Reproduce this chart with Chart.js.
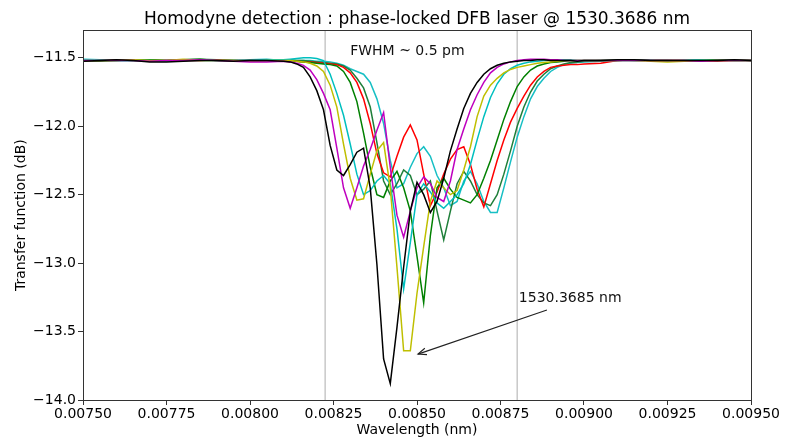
<!DOCTYPE html>
<html><head><meta charset="utf-8">
<script src="https://cdn.jsdelivr.net/npm/chart.js@4"></script>
<style>html,body{margin:0;padding:0;background:#fff}</style>
</head><body>
<canvas id="c" width="788" height="437"></canvas>
<script>
const titleText = 'Homodyne detection : phase-locked DFB laser @ 1530.3686 nm';
const xLabel = 'Wavelength (nm)';
const yLabel = 'Transfer function (dB)';
const xTicks = [0.0075, 0.00775, 0.0080, 0.00825, 0.0085, 0.00875, 0.0090, 0.00925, 0.0095];
const yTicks = [-14.0, -13.5, -13.0, -12.5, -12.0, -11.5];
const markerLines = [0.008225, 0.0088];
const fwhmText = 'FWHM ~ 0.5 pm';
const fwhmPos = [0.0083, -11.456];
const peakText = '1530.3685 nm';
const peakTextPos = [0.008805, -13.254];
const arrowFrom = [0.008889, -13.342];
const arrowTo = [0.008503, -13.665];

const wavelength = [
 0.00750,0.00755,0.00760,0.00765,0.00770,0.00775,0.00780,0.00785,0.00790,0.00795,0.00800,0.00805,
 0.00810,0.00812,0.00814,0.00816,0.00818,0.00820,0.00822,0.00824,0.00826,0.00828,
 0.00830,0.00832,0.00834,0.00836,0.00838,0.00840,0.00842,0.00844,0.00846,0.00848,
 0.00850,0.00852,0.00854,0.00856,0.00858,0.00860,0.00862,0.00864,0.00866,0.00868,
 0.00870,0.00872,0.00874,0.00876,0.00878,0.00880,0.00882,0.00884,0.00886,0.00888,
 0.00890,0.00892,0.00894,0.00896,0.00898,0.00900,
 0.00905,0.00910,0.00915,0.00920,0.00925,0.00930,0.00935,0.00940,0.00945,0.00950];

const blackTrace = [
 -11.525,-11.52,-11.515,-11.52,-11.53,-11.53,-11.525,-11.52,-11.52,-11.525,-11.52,-11.52,
 -11.525,-11.53,-11.545,-11.57,-11.64,-11.74,-11.88,-12.14,-12.32,-12.36,
 -12.28,-12.19,-12.16,-12.45,-13.01,-13.70,-13.88,-13.47,-13.03,-12.62,
 -12.41,-12.50,-12.63,-12.55,-12.38,-12.18,-12.02,-11.87,-11.76,-11.68,
 -11.62,-11.58,-11.555,-11.54,-11.53,-11.525,-11.52,-11.52,-11.515,-11.515,
 -11.52,-11.52,-11.52,-11.52,-11.525,-11.52,
 -11.52,-11.515,-11.515,-11.52,-11.52,-11.52,-11.52,-11.52,-11.515,-11.52];
const magentaTrace = [
 -11.52,-11.52,-11.52,-11.52,-11.525,-11.52,-11.52,-11.515,-11.52,-11.525,-11.53,-11.53,
 -11.525,-11.53,-11.54,-11.555,-11.59,-11.66,-11.76,-11.88,-12.16,-12.45,
 -12.60,-12.45,-12.29,-12.17,-12.03,-11.90,-12.30,-12.65,-12.81,-12.62,
 -12.45,-12.37,-12.42,-12.52,-12.55,-12.40,-12.17,-12.02,-11.88,-11.77,
 -11.68,-11.61,-11.57,-11.545,-11.53,-11.52,-11.515,-11.51,-11.51,-11.51,
 -11.515,-11.515,-11.52,-11.52,-11.52,-11.52,
 -11.52,-11.52,-11.52,-11.52,-11.52,-11.52,-11.525,-11.52,-11.52,-11.52];
const yellowTrace = [
 -11.52,-11.52,-11.52,-11.515,-11.52,-11.52,-11.51,-11.52,-11.52,-11.52,-11.525,-11.52,
 -11.52,-11.52,-11.525,-11.53,-11.54,-11.56,-11.60,-11.70,-11.86,-12.13,
 -12.38,-12.54,-12.53,-12.35,-12.18,-12.12,-12.45,-13.03,-13.64,-13.64,
 -13.22,-12.88,-12.55,-12.40,-12.45,-12.50,-12.47,-12.32,-12.15,-11.93,
 -11.78,-11.70,-11.65,-11.61,-11.585,-11.57,-11.56,-11.55,-11.54,-11.535,
 -11.53,-11.525,-11.52,-11.52,-11.52,-11.52,
 -11.52,-11.52,-11.52,-11.525,-11.53,-11.525,-11.52,-11.52,-11.52,-11.52];
const cyanTraceA = [
 -11.51,-11.515,-11.52,-11.52,-11.52,-11.525,-11.52,-11.515,-11.52,-11.52,-11.52,-11.515,
 -11.515,-11.51,-11.505,-11.50,-11.50,-11.505,-11.52,-11.62,-11.76,-11.92,
 -12.13,-12.35,-12.50,-12.47,-12.40,-12.36,-12.42,-12.75,-13.19,-12.85,
 -12.50,-12.42,-12.48,-12.56,-12.60,-12.55,-12.50,-12.42,-12.28,-12.10,
 -11.93,-11.79,-11.69,-11.62,-11.58,-11.555,-11.54,-11.53,-11.525,-11.52,
 -11.52,-11.52,-11.515,-11.515,-11.52,-11.52,
 -11.52,-11.52,-11.52,-11.52,-11.525,-11.52,-11.515,-11.52,-11.52,-11.52];
const greenTraceA = [
 -11.52,-11.525,-11.52,-11.52,-11.515,-11.52,-11.515,-11.51,-11.52,-11.52,-11.525,-11.52,
 -11.52,-11.52,-11.525,-11.53,-11.535,-11.54,-11.545,-11.55,-11.56,-11.60,
 -11.68,-11.82,-12.05,-12.30,-12.50,-12.52,-12.40,-12.33,-12.45,-12.62,
 -12.95,-13.29,-12.80,-12.45,-12.38,-12.46,-12.52,-12.54,-12.56,-12.50,
 -12.38,-12.25,-12.10,-11.95,-11.82,-11.71,-11.64,-11.59,-11.56,-11.545,
 -11.535,-11.53,-11.525,-11.52,-11.52,-11.52,
 -11.52,-11.52,-11.515,-11.52,-11.52,-11.52,-11.52,-11.515,-11.52,-11.52];
const redTrace = [
 -11.52,-11.52,-11.515,-11.52,-11.52,-11.52,-11.52,-11.52,-11.515,-11.52,-11.52,-11.52,
 -11.52,-11.52,-11.525,-11.53,-11.53,-11.535,-11.54,-11.545,-11.55,-11.57,
 -11.61,-11.68,-11.80,-11.98,-12.20,-12.34,-12.37,-12.22,-12.08,-11.99,
 -12.10,-12.35,-12.58,-12.48,-12.35,-12.24,-12.17,-12.15,-12.28,-12.46,
 -12.59,-12.42,-12.25,-12.10,-11.97,-11.87,-11.78,-11.70,-11.64,-11.60,
 -11.57,-11.56,-11.555,-11.55,-11.55,-11.545,
 -11.54,-11.52,-11.515,-11.52,-11.52,-11.52,-11.52,-11.525,-11.52,-11.52];
const greenTraceB = [
 -11.525,-11.52,-11.52,-11.515,-11.52,-11.52,-11.515,-11.51,-11.515,-11.52,-11.52,-11.52,
 -11.52,-11.515,-11.52,-11.52,-11.525,-11.53,-11.535,-11.54,-11.545,-11.56,
 -11.59,-11.65,-11.72,-11.86,-12.12,-12.40,-12.50,-12.42,-12.32,-12.36,
 -12.50,-12.46,-12.40,-12.62,-12.83,-12.62,-12.42,-12.33,-12.40,-12.50,
 -12.56,-12.58,-12.50,-12.35,-12.18,-12.00,-11.86,-11.75,-11.67,-11.62,
 -11.58,-11.56,-11.545,-11.535,-11.53,-11.525,
 -11.52,-11.515,-11.52,-11.52,-11.52,-11.52,-11.52,-11.515,-11.515,-11.52];
const cyanTraceB = [
 -11.515,-11.52,-11.52,-11.52,-11.52,-11.52,-11.52,-11.52,-11.52,-11.52,-11.515,-11.51,
 -11.52,-11.52,-11.52,-11.52,-11.52,-11.525,-11.525,-11.53,-11.54,-11.555,
 -11.58,-11.60,-11.62,-11.68,-11.80,-11.98,-12.25,-12.45,-12.42,-12.30,
 -12.20,-12.15,-12.22,-12.36,-12.45,-12.58,-12.55,-12.40,-12.33,-12.42,
 -12.55,-12.63,-12.63,-12.45,-12.26,-12.08,-11.93,-11.80,-11.71,-11.65,
 -11.60,-11.57,-11.55,-11.54,-11.535,-11.53,
 -11.525,-11.52,-11.52,-11.52,-11.52,-11.525,-11.52,-11.52,-11.52,-11.52];

const traces = [blackTrace, magentaTrace, yellowTrace, cyanTraceA, greenTraceA, redTrace, greenTraceB, cyanTraceB];
const traceColors = ['#000000', '#bf00bf', '#bfbf00', '#00bfbf', '#008000', '#ff0000', '#1f7f3a', '#17bfc4'];

const FONT = "'DejaVu Sans', sans-serif";
Chart.defaults.font.family = FONT;
Chart.defaults.color = '#000';

const fmtMinus = s => s.replace('-', '\u2212');

const overlay = {
  id: 'overlay',
  beforeDatasetsDraw(chart) {
    const {ctx, chartArea: a, scales: {x}} = chart;
    ctx.save();
    ctx.strokeStyle = '#c8c8c8';
    ctx.lineWidth = 1.5;
    markerLines.forEach(v => {
      const px = x.getPixelForValue(v);
      ctx.beginPath(); ctx.moveTo(px, a.top); ctx.lineTo(px, a.bottom); ctx.stroke();
    });
    ctx.restore();
  },
  afterDatasetsDraw(chart) {
    const {ctx, chartArea: a, scales: {x, y}} = chart;
    ctx.save();
    ctx.strokeStyle = '#333';
    ctx.lineWidth = 1;
    ctx.strokeRect(Math.round(a.left) + 0.5, Math.round(a.top) + 0.5, Math.round(a.right - a.left), Math.round(a.bottom - a.top));
    ctx.fillStyle = '#111';
    ctx.font = "14px " + FONT;
    ctx.textBaseline = 'middle';
    ctx.textAlign = 'left';
    ctx.fillText(fwhmText, x.getPixelForValue(fwhmPos[0]), y.getPixelForValue(fwhmPos[1]));
    ctx.fillText(peakText, x.getPixelForValue(peakTextPos[0]), y.getPixelForValue(peakTextPos[1]));
    const x1 = x.getPixelForValue(arrowFrom[0]), y1 = y.getPixelForValue(arrowFrom[1]);
    const x2 = x.getPixelForValue(arrowTo[0]), y2 = y.getPixelForValue(arrowTo[1]);
    ctx.strokeStyle = '#222';
    ctx.lineWidth = 1.1;
    ctx.beginPath(); ctx.moveTo(x1, y1); ctx.lineTo(x2, y2); ctx.stroke();
    const ang = Math.atan2(y2 - y1, x2 - x1);
    const hl = 9, hw = 0.38;
    ctx.beginPath();
    ctx.moveTo(x2 - hl * Math.cos(ang - hw), y2 - hl * Math.sin(ang - hw));
    ctx.lineTo(x2, y2);
    ctx.lineTo(x2 - hl * Math.cos(ang + hw), y2 - hl * Math.sin(ang + hw));
    ctx.stroke();
    ctx.restore();
  }
};

new Chart(document.getElementById('c'), {
  type: 'line',
  data: {
    datasets: traces.map((t, k) => ({
      data: wavelength.map((w, i) => ({x: w, y: t[i]})),
      borderColor: traceColors[k],
      borderWidth: 1.5,
      pointRadius: 0,
      fill: false,
      tension: 0
    }))
  },
  options: {
    responsive: false,
    animation: false,
    devicePixelRatio: 1,
    layout: {padding: {left: 0, right: 37, top: 0, bottom: 0}},
    plugins: {
      legend: {display: false},
      tooltip: {enabled: false},
      title: {display: true, text: titleText, fullSize: false, color: '#000',
        font: {size: 17, weight: 'normal', family: FONT}, padding: {top: 9, bottom: 1}}
    },
    scales: {
      x: {
        type: 'linear', min: 0.0075, max: 0.0095,
        afterBuildTicks: s => { s.ticks = xTicks.map(v => ({value: v})); },
        afterFit: s => { s.height = 37; },
        ticks: {font: {size: 14}, color: '#000', padding: 1, maxRotation: 0, autoSkip: false,
          callback: v => v.toFixed(5)},
        grid: {drawOnChartArea: false, drawTicks: true, tickLength: 5, color: '#333'},
        border: {display: false},
        title: {display: true, text: xLabel, color: '#000', font: {size: 14, lineHeight: 1}, padding: {top: 0, bottom: 0}}
      },
      y: {
        type: 'linear', min: -14.0, max: -11.3,
        afterBuildTicks: s => { s.ticks = yTicks.map(v => ({value: v})); },
        afterFit: s => { s.width = 83; },
        ticks: {font: {size: 14}, color: '#000', padding: 2, autoSkip: false,
          callback: v => fmtMinus(v.toFixed(1))},
        grid: {drawOnChartArea: false, drawTicks: true, tickLength: 5, color: '#333'},
        border: {display: false},
        title: {display: true, text: yLabel, color: '#000', font: {size: 14}, padding: {top: 13, bottom: 0}}
      }
    }
  },
  plugins: [overlay]
});
</script>
</body></html>
